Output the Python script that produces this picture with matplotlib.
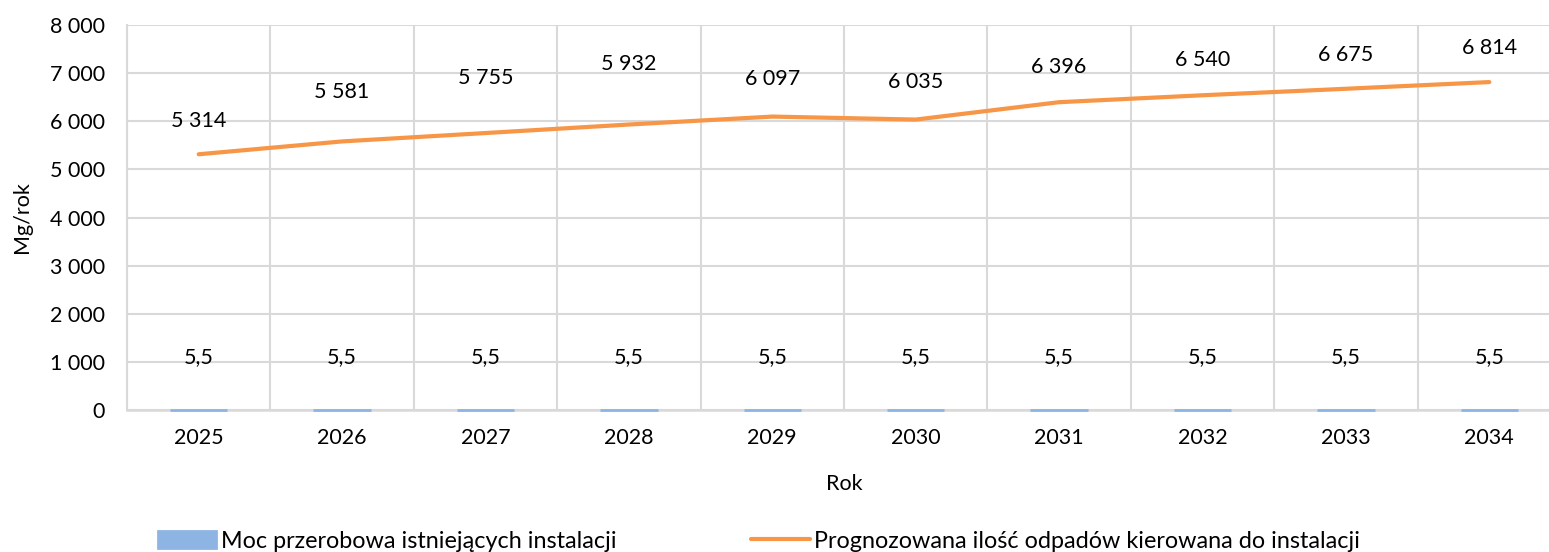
import matplotlib.pyplot as plt
from matplotlib.ticker import FuncFormatter

years = [2025, 2026, 2027, 2028, 2029, 2030, 2031, 2032, 2033, 2034]
capacity = [5.5, 5.5, 5.5, 5.5, 5.5, 5.5, 5.5, 5.5, 5.5, 5.5]
forecast = [5314, 5581, 5755, 5932, 6097, 6035, 6396, 6540, 6675, 6814]

capacity_name = "Moc przerobowa istniejących instalacji"
forecast_name = "Prognozowana ilość odpadów kierowana do instalacji"


def pl_thousands(v, pos=None):
    return f"{v:,.0f}".replace(",", " ")


def main():
    plt.rcParams["font.family"] = ["Lato", "DejaVu Sans"]
    fs = 15.5
    fig = plt.figure(figsize=(15.49, 5.52), dpi=100)
    ax = fig.add_axes([127 / 1549, 142 / 552, 1434 / 1549, 385 / 552])

    x = list(range(len(years)))
    grid = "#d9d9d9"

    bars = ax.bar(x, capacity, width=0.4, color="#8eb4e3",
                  edgecolor="#8eb4e3", linewidth=2, zorder=5,
                  clip_on=False, label=capacity_name)
    line, = ax.plot(x, forecast, color="#f79646", linewidth=3,
                    solid_capstyle="round", zorder=4, label=forecast_name)

    # data labels
    for xi, v in zip(x, capacity):
        ax.annotate(f"{v:.1f}".replace(".", ","), (xi, v), xytext=(0, 38),
                    textcoords="offset points", ha="center", va="center",
                    fontsize=fs, color="#000000")
    label_dy = [33, 49, 55, 61, 38, 38, 35, 35, 34, 34]
    for xi, v, dy in zip(x, forecast, label_dy):
        ax.annotate(pl_thousands(v), (xi, v), xytext=(0, dy * 0.72),
                    textcoords="offset points", ha="center", va="center",
                    fontsize=fs, color="#000000")

    ax.set_xlim(-0.5, len(years) - 0.5)
    ax.set_ylim(0, 8000)
    ax.set_yticks(range(0, 8001, 1000))
    ax.yaxis.set_major_formatter(FuncFormatter(pl_thousands))
    ax.set_xticks(x)
    ax.set_xticklabels([str(y) for y in years])
    ax.set_xticks([i - 0.5 for i in range(len(years) + 1)], minor=True)

    ax.grid(axis="y", which="major", color=grid, linewidth=1.5, zorder=0)
    ax.grid(axis="x", which="minor", color=grid, linewidth=1.5, zorder=0)
    ax.tick_params(which="both", length=0)
    ax.tick_params(axis="x", labelsize=fs, pad=13)
    ax.tick_params(axis="y", labelsize=fs, pad=16)
    for s in ["top", "right"]:
        ax.spines[s].set_visible(False)
    ax.spines["left"].set_color(grid)
    ax.spines["left"].set_linewidth(1.5)
    ax.spines["bottom"].set_color(grid)
    ax.spines["bottom"].set_linewidth(1.8)

    ax.set_xlabel("Rok", fontsize=fs, labelpad=19)
    ax.set_ylabel("Mg/rok", fontsize=fs, labelpad=13)

    fig.legend(handles=[bars, line], loc="center", ncol=2,
               bbox_to_anchor=(0.49, 1 - 541 / 552), frameon=False,
               fontsize=16.8, handlelength=2.5, handletextpad=0.2,
               columnspacing=5.8)

    fig.savefig("out.png", dpi=100)


if __name__ == "__main__":
    main()
